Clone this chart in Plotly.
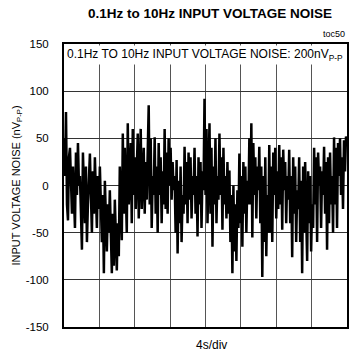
import numpy as np
import plotly.graph_objects as go

# Noise trace samples (nV), read left to right across the 8 divisions
noise_nv = [
    50, 10, 78, -20, -37, 30,
    40, 5, -30, 20, -15, -45, 35, -10, 45, 0,
    10, -35, -68, 35, -5, -40, 20, -60, -20, 5,
    34, -10, -50, 15, -30, 30, -5, -45, 10, -25,
    20, -30, -60, -10, -93, 5, -40, -70, -20, -50,
    -5, -60, -93, -30, -85, -15, -70, -90, -40, -75,
    20, -35, -58, 55, -30, 40, -10, -50,
    66, -20, 10, 45, -40, 60, -10, 30, -25, 20,
    55, -35, 20, 60, -25, 0, 40, -30, 25, -15,
    30, 85, -20, 50, -45, 10, -10,
    51, -30, 20, -50, 45, -10, 30, -40, 15, -20,
    60, -25, 35, -30, 50, 0, 40, -15, 25, -5,
    10, -50, 27, -72, 5, -40, 20, -60, -10, -30,
    41, -20, 25, -40, 35, -15, 30, -35, 10, -10,
    40, -30, 10, -54, 30, -20, 25, -45, 15, -5,
    92, -10, 60, -40, 30,
    66, -30, 40, -65, 20, -20, 50, -40, 10, -15,
    55, -10, 30, -47, 40, -20, 10, -35, 25, -30,
    16, -60, -10, -93, 0, -70, -20, -80, -5, -45,
    34, -40, 10, -65, 25, -30, 20, -50, 5, -20,
    50, -20, 66, -55, 45, -10, 30, -35, 20, -5,
    41, -40, 20, -97, 10, -60, 30, -75, -10, -50,
    43, -50, 20, -60, 35, -10, 40, -35, 15, -25,
    43, -20, 30, -47, 38, -5, 25, -40, 10, -15,
    38, -40, 10, -76, 30, -30, 20, -60, -5, -25,
    30, -60, 5, -93, 20, -50, 25, -30, -80, 15, -40, 10, -70, -20, -45,
    40, -20, 30, -60, 35, 0, 20, -45, 15, -10,
    41, -30, 25, -68, 30, -40, 35, -20, 10, -50,
    51, -20, 40, -45, 45, 10, 50, -10, 30, -25, 48, 15, 52, 45,
]

# Time axis: 8 divisions at 4 s/div
t_span_s = 32
time_s = np.linspace(0, t_span_s, len(noise_nv))

y_ticks = [-150, -100, -50, 0, 50, 100, 150]
y_tick_text = ["-150", "-100", "-50", "0", "50", "100", "150"]

FONT = "Liberation Sans, Arial, sans-serif"

fig = go.Figure()
fig.add_trace(go.Scatter(
    x=time_s, y=noise_nv, mode="lines",
    line=dict(color="black", width=2.5),
    hoverinfo="skip", showlegend=False,
))

fig.update_layout(
    width=350, height=356,
    margin=dict(l=64, r=1, t=44, b=29),
    paper_bgcolor="white", plot_bgcolor="white",
    font=dict(family=FONT, color="black", size=12),
    title=dict(
        text="<b>0.1Hz to 10Hz INPUT VOLTAGE NOISE</b>",
        x=0.6, xanchor="center", y=0.962, yanchor="middle",
        font=dict(family=FONT, size=13.5, color="black"),
    ),
    xaxis=dict(
        range=[0, t_span_s], dtick=4, tick0=0,
        showticklabels=False, ticks="",
        showgrid=True, gridcolor="#555555", gridwidth=1,
        showline=True, linecolor="black", linewidth=2, mirror=True,
        zeroline=False,
    ),
    yaxis=dict(
        range=[-150, 150], tickvals=y_ticks, ticktext=y_tick_text,
        ticks="", ticklabelstandoff=11,
        tickfont=dict(size=11.5),
        showgrid=True, gridcolor="#333333", gridwidth=1,
        showline=True, linecolor="black", linewidth=2, mirror=True,
        zeroline=False,
        title=dict(text="INPUT VOLTAGE NOISE (nV<sub>P-P</sub>)", standoff=3,
                   font=dict(size=11)),
    ),
    annotations=[
        dict(text="0.1Hz TO 10Hz INPUT VOLTAGE NOISE: 200nV<sub>P-P</sub>",
             xref="paper", yref="paper", x=0.005, y=0.997,
             xanchor="left", yanchor="top", showarrow=False,
             bgcolor="white", font=dict(size=12)),
        dict(text="toc50", xref="paper", yref="paper", x=1.0, y=1.01,
             xanchor="right", yanchor="bottom", showarrow=False,
             font=dict(size=9)),
        dict(text="4s/div", xref="paper", yref="paper", x=0.52, y=-0.064,
             xanchor="center", yanchor="middle", showarrow=False,
             font=dict(size=12)),
    ],
)

fig.write_html("out.html")
